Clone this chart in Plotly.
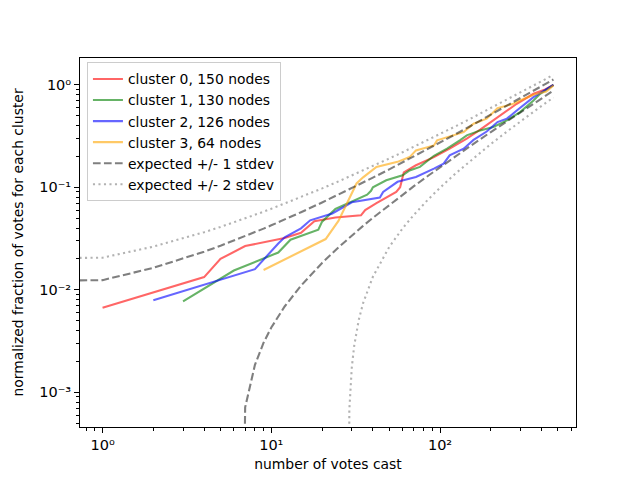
import numpy as np
import plotly.graph_objects as go

# ---- cluster data (votes cast, normalized fraction) ----
c0_x = [1, 4, 5, 7, 12, 15, 18, 24, 34, 36, 42, 48, 55, 58, 61, 72, 92, 114, 144, 173, 207, 249, 285, 358, 420, 470]
c0_y = [0.00667, 0.0133, 0.020, 0.0267, 0.0320, 0.0360, 0.0467, 0.0507, 0.0533, 0.060, 0.070, 0.080, 0.090,
        0.100, 0.140, 0.164, 0.197, 0.238, 0.298, 0.365, 0.449, 0.562, 0.653, 0.817, 0.90, 1.0]

c1_x = [3, 6, 11, 13, 19, 20, 24, 31, 37, 39, 40, 48, 60, 66, 76, 92, 110, 131, 144, 173, 207, 249, 298, 358, 392, 470]
c1_y = [0.0077, 0.0154, 0.0231, 0.0308, 0.0385, 0.0462, 0.0615, 0.0746, 0.0846, 0.0923, 0.100, 0.117, 0.131,
        0.146, 0.158, 0.203, 0.238, 0.287, 0.321, 0.359, 0.387, 0.449, 0.541, 0.703, 0.817, 1.0]

c2_x = [2, 8, 11, 12, 15, 17, 23, 30, 44, 46, 56, 72, 92, 105, 114, 138, 158, 189, 219, 249, 285, 310, 358, 470]
c2_y = [0.0079, 0.0159, 0.0283, 0.0325, 0.0397, 0.0476, 0.0556, 0.0714, 0.0794, 0.090, 0.113, 0.126, 0.152,
        0.170, 0.205, 0.238, 0.290, 0.350, 0.433, 0.467, 0.562, 0.629, 0.757, 1.0]

c3_x = [9, 21, 25, 28, 32, 35, 42, 56, 66, 72, 92, 96, 114, 138, 158, 189, 219, 249, 272, 298, 358, 426, 446, 470]
c3_y = [0.0156, 0.03125, 0.0469, 0.0703, 0.109, 0.125, 0.158, 0.177, 0.197, 0.229, 0.256, 0.287, 0.314, 0.345,
        0.417, 0.467, 0.590, 0.630, 0.653, 0.703, 0.800, 0.860, 0.910, 0.985]

cluster_names = ["cluster 0, 150 nodes", "cluster 1, 130 nodes", "cluster 2, 126 nodes", "cluster 3, 64 nodes"]
cluster_colors = ["rgba(255,0,0,0.6)", "rgba(0,128,0,0.6)", "rgba(0,0,255,0.6)", "rgba(255,165,0,0.6)"]

# ---- expected envelopes (x = 0 and non-positive values get clipped like a log plot) ----
exp_x = [0, 1, 2, 3, 4, 5, 6, 7, 8, 9, 10, 12, 15, 20, 25, 28, 29, 30, 31, 33, 35, 40, 50, 60, 70, 85,
         100, 125, 150, 200, 250, 300, 350, 400, 470]
up1 = [0.00789, 0.01241, 0.01637, 0.02004, 0.02353, 0.02689, 0.03015, 0.03333, 0.03645, 0.03951, 0.04253,
       0.04845, 0.05711, 0.07110, 0.08472, 0.09275, 0.09541, 0.09806, 0.10070, 0.10596, 0.11119, 0.12415,
       0.14969, 0.17482, 0.19965, 0.23645, 0.27284, 0.33281, 0.39213, 0.50941, 0.62539, 0.74046, 0.85483,
       0.96865, 1.12726]
up2 = [0.01366, 0.02056, 0.02636, 0.03158, 0.03642, 0.04101, 0.04540, 0.04964, 0.05374, 0.05774, 0.06165,
       0.06924, 0.08017, 0.09753, 0.11412, 0.12380, 0.12699, 0.13016, 0.13332, 0.13958, 0.14579, 0.16107,
       0.19086, 0.21985, 0.24823, 0.28992, 0.33078, 0.39753, 0.46298, 0.59115, 0.71674, 0.84049, 0.96286,
       1.08411, 1.25240]
lo1_x = [6, 7, 8, 9, 10, 12, 15, 20, 25, 28, 29, 30, 35, 40, 50, 60, 70, 85, 100, 125, 150, 200, 250, 300, 350, 400, 470]
lo1 = [-0.00036, 0.000713, 0.001852, 0.003044, 0.004281, 0.006871, 0.01098, 0.01826, 0.02592, 0.03065,
       0.03225, 0.03385, 0.04200, 0.05032, 0.06734, 0.08476, 0.10248, 0.12951, 0.15695, 0.20336, 0.25043,
       0.34592, 0.44270, 0.54039, 0.63879, 0.73773, 0.87699]
lo2_x = [28, 29, 30, 31, 33, 35, 40, 50, 60, 70, 85, 100, 125, 150, 200, 250, 300, 350, 400, 470]
lo2 = [-0.0004, 0.000668, 0.001751, 0.002853, 0.005100, 0.007406, 0.013396, 0.026159, 0.039723, 0.053896,
       0.07604, 0.09900, 0.13864, 0.17957, 0.26417, 0.35135, 0.44036, 0.53076, 0.62227, 0.75186]

x_tick_vals = [1, 10, 100]
x_tick_text = ["10\u2070", "10\u00b9", "10\u00b2"]
y_tick_vals = [0.001, 0.01, 0.1, 1]
y_tick_text = ["10\u207b\u00b3", "10\u207b\u00b2", "10\u207b\u00b9", "10\u2070"]

TINY = 1e-12


def clip(v):
    a = np.asarray(v, dtype=float)
    return np.where(a > 0, a, TINY)


fig = go.Figure()
for i, (xs, ys) in enumerate([(c0_x, c0_y), (c1_x, c1_y), (c2_x, c2_y), (c3_x, c3_y)]):
    fig.add_trace(go.Scatter(x=xs, y=ys, mode="lines", name=cluster_names[i],
                             line=dict(color=cluster_colors[i], width=2.1)))

dash1 = "7.7px,3.3px"
dash2 = "2.1px,3.4px"
c_d1 = "rgba(0,0,0,0.5)"
c_d2 = "rgba(0,0,0,0.3)"
fig.add_trace(go.Scatter(x=clip(exp_x), y=clip(up1), mode="lines", name="expected +/- 1 stdev",
                         legendgroup="e1", line=dict(color=c_d1, width=2.1, dash=dash1)))
fig.add_trace(go.Scatter(x=clip(lo1_x), y=clip(lo1), mode="lines", showlegend=False,
                         legendgroup="e1", line=dict(color=c_d1, width=2.1, dash=dash1)))
fig.add_trace(go.Scatter(x=clip(exp_x), y=clip(up2), mode="lines", name="expected +/- 2 stdev",
                         legendgroup="e2", line=dict(color=c_d2, width=2.1, dash=dash2)))
fig.add_trace(go.Scatter(x=clip(lo2_x), y=clip(lo2), mode="lines", showlegend=False,
                         legendgroup="e2", line=dict(color=c_d2, width=2.1, dash=dash2)))

font = dict(family="DejaVu Sans", size=13.9, color="black")
tick_font = dict(family="DejaVu Sans", size=14.5, color="black")

x_minor = [v * 10 ** d for d in range(-1, 3) for v in range(2, 10)]
y_minor = [v * 10 ** d for d in range(-4, 1) for v in range(2, 10)]

axis_common = dict(type="log", showgrid=False, zeroline=False, showline=True, mirror=True,
                   linecolor="black", linewidth=1.1, ticks="outside", ticklen=4.9, tickwidth=1.1,
                   tickcolor="black", tickfont=tick_font, automargin=False)

# the page body adds an 8px margin, so the figure is 16px smaller than the window
fig.update_layout(
    width=624, height=464,
    margin=dict(l=72, r=56, t=50, b=45),
    paper_bgcolor="white", plot_bgcolor="white",
    font=font,
    showlegend=True,
    legend=dict(x=0.014, y=0.988, xanchor="left", yanchor="top",
                bgcolor="rgba(255,255,255,0.8)", bordercolor="#cccccc", borderwidth=1,
                font=font, traceorder="normal"),
    xaxis=dict(axis_common, range=[-0.13361, 2.80571],
               tickvals=x_tick_vals, ticktext=x_tick_text,
               minor=dict(tickvals=x_minor, ticks="outside", ticklen=2.8, tickwidth=0.8, tickcolor="black"),
               title=dict(text="number of votes cast", font=font, standoff=11)),
    yaxis=dict(axis_common, range=[-3.3389, 0.2614],
               tickvals=y_tick_vals, ticktext=y_tick_text,
               minor=dict(tickvals=y_minor, ticks="outside", ticklen=2.8, tickwidth=0.8, tickcolor="black"),
               title=dict(text="normalized fraction of votes for each cluster", font=font, standoff=12)),
)

fig.write_html("out.html")
